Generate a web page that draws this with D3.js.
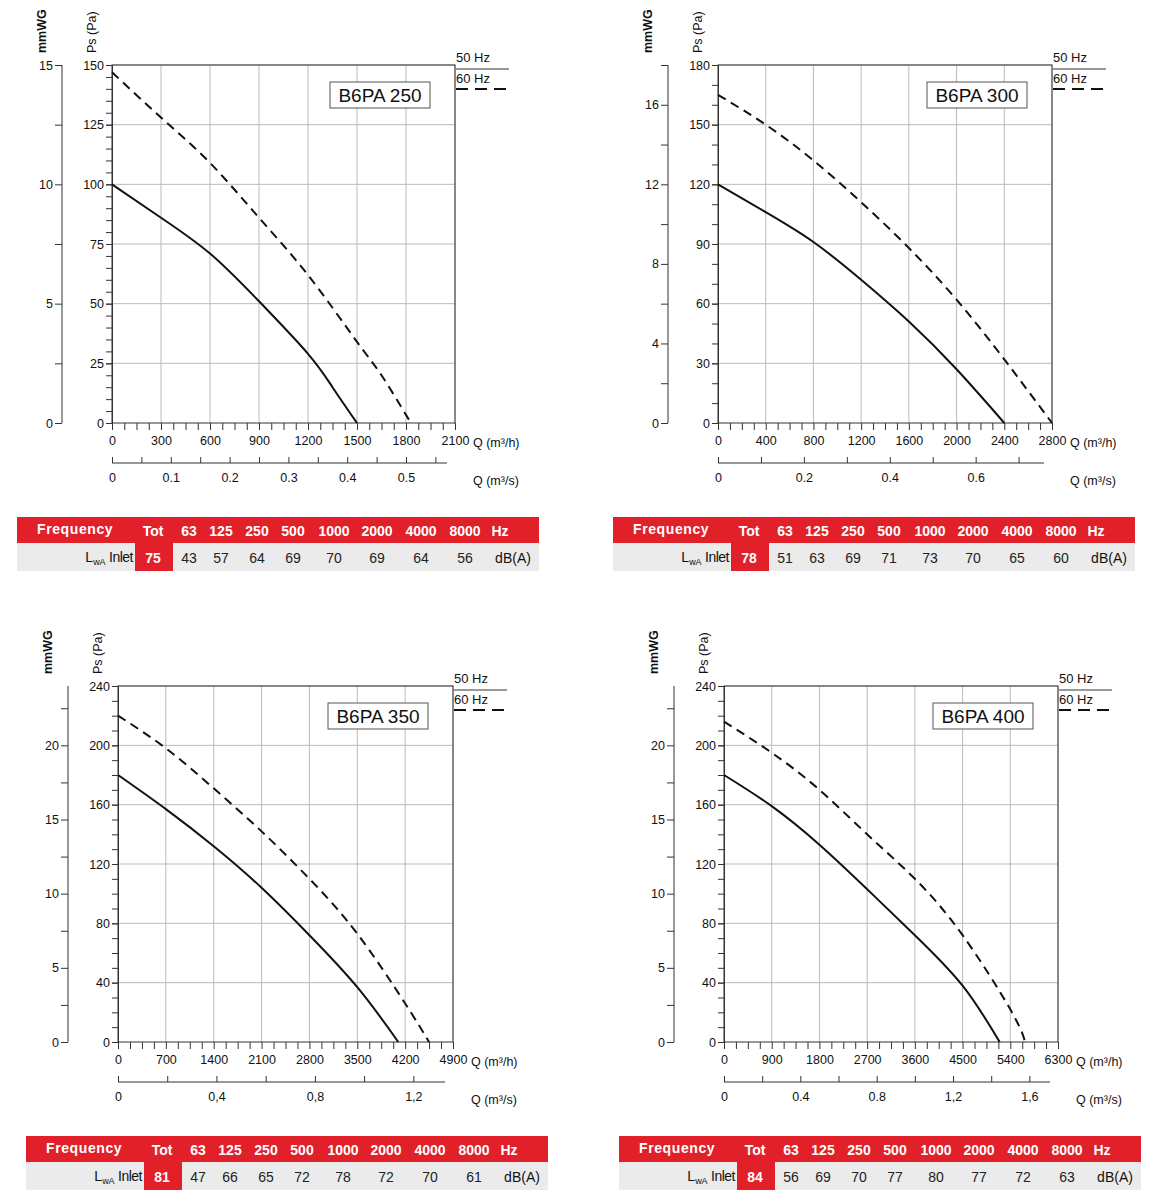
<!DOCTYPE html>
<html><head><meta charset="utf-8">
<script src="https://cdn.jsdelivr.net/npm/d3@7"></script>
<style>
body{margin:0;background:#fff;}
text{font-family:"Liberation Sans",Arial,sans-serif;fill:#111;}
.grid line{stroke:#bbb;stroke-width:1;}
</style></head><body>
<svg id="chart" width="1152" height="1200"></svg>
<script>
// ---- data ----
var models = ["B6PA 250", "B6PA 300", "B6PA 350", "B6PA 400"];

var q50_250 = [0, 300, 600, 900, 1200, 1350, 1500];
var p50_250 = [100, 86, 71, 51, 29, 15, 0];
var q60_250 = [0, 300, 600, 900, 1200, 1500, 1650, 1830];
var p60_250 = [147, 128, 109, 86, 62, 34, 20, 0];

var q50_300 = [0, 400, 800, 1200, 1600, 2000, 2400];
var p50_300 = [120, 106, 91, 72, 51, 27, 0];
var q60_300 = [0, 400, 800, 1200, 1600, 2000, 2400, 2800];
var p60_300 = [165, 150, 132, 111, 88, 62, 32, 0];

var q50_350 = [0, 700, 1400, 2100, 2800, 3500, 4100];
var p50_350 = [180, 157, 132, 104, 72, 37, 0];
var q60_350 = [0, 700, 1400, 2100, 2800, 3500, 4200, 4550];
var p60_350 = [220, 198, 171, 142, 110, 73, 26, 0];

var q50_400 = [0, 900, 1800, 2700, 3600, 4500, 5200];
var p50_400 = [180, 159, 133, 103, 72, 38, 0];
var q60_400 = [0, 900, 1800, 2700, 3600, 4500, 5400, 5680];
var p60_400 = [216, 195, 170, 140, 110, 72, 22, 0];

var freqHeads = ["Tot", "63", "125", "250", "500", "1000", "2000", "4000", "8000", "Hz"];
var lwa_250 = [75, 43, 57, 64, 69, 70, 69, 64, 56];
var lwa_300 = [78, 51, 63, 69, 71, 73, 70, 65, 60];
var lwa_350 = [81, 47, 66, 65, 72, 78, 72, 70, 61];
var lwa_400 = [84, 56, 69, 70, 77, 80, 77, 72, 63];

var panels = [
  {name: models[0], x: 112, y: 65, w: 343, h: 358, qMax: 2100, qStep: 300, pMax: 150, pStep: 25, pMinor: 5,
   mwTicks: [0,5,10,15], mwMinor: 2.5, msTicks: [0,0.1,0.2,0.3,0.4,0.5], msMinor: 0.05, msFmt: function(d){return String(d);},
   s50: [q50_250, p50_250], s60: [q60_250, p60_250], lwa: lwa_250, tx: 17},
  {name: models[1], x: 718, y: 65, w: 334, h: 358, qMax: 2800, qStep: 400, pMax: 180, pStep: 30, pMinor: 10,
   mwTicks: [0,4,8,12,16], mwMinor: 2, msTicks: [0,0.2,0.4,0.6], msMinor: 0.1, msFmt: function(d){return String(d);},
   s50: [q50_300, p50_300], s60: [q60_300, p60_300], lwa: lwa_300, tx: 613},
  {name: models[2], x: 118, y: 686, w: 335, h: 356, qMax: 4900, qStep: 700, pMax: 240, pStep: 40, pMinor: 10,
   mwTicks: [0,5,10,15,20], mwMinor: 2.5, msTicks: [0,0.4,0.8,1.2], msMinor: 0.2, msFmt: function(d){return String(d).replace(".", ",");},
   s50: [q50_350, p50_350], s60: [q60_350, p60_350], lwa: lwa_350, tx: 26},
  {name: models[3], x: 724, y: 686, w: 334, h: 356, qMax: 6300, qStep: 900, pMax: 240, pStep: 40, pMinor: 10,
   mwTicks: [0,5,10,15,20], mwMinor: 2.5, msTicks: [0,0.4,0.8,1.2,1.6], msMinor: 0.2, msFmt: function(d){return d < 1 ? String(d) : String(d).replace(".", ",");},
   s50: [q50_400, p50_400], s60: [q60_400, p60_400], lwa: lwa_400, tx: 619}
];

// column centres in the noise table, relative to its left edge
var colX = [136, 172, 204, 240, 276, 317, 360, 404, 448, 483];
var RED = "#e2202a";

var svg = d3.select("#chart");

panels.forEach(function(p) {
  var g = svg.append("g");
  var bottom = p.y + p.h, right = p.x + p.w;
  var x = d3.scaleLinear().domain([0, p.qMax]).range([p.x, right]);
  var y = d3.scaleLinear().domain([0, p.pMax]).range([bottom, p.y]);
  var ym = d3.scaleLinear().domain([0, p.pMax / 10]).range([bottom, p.y]);
  var xs = d3.scaleLinear().domain([0, p.qMax / 3600]).range([p.x, right]);

  // grid
  var grid = g.append("g").attr("class", "grid");
  grid.selectAll(".v").data(d3.range(p.qStep, p.qMax + 1, p.qStep)).join("line")
    .attr("x1", x).attr("x2", x).attr("y1", p.y).attr("y2", bottom);
  grid.selectAll(".h").data(d3.range(p.pStep, p.pMax + 1, p.pStep)).join("line")
    .attr("x1", p.x).attr("x2", right).attr("y1", y).attr("y2", y);
  g.append("rect").attr("x", p.x).attr("y", p.y).attr("width", p.w).attr("height", p.h)
    .attr("fill", "none").attr("stroke", "#333").attr("stroke-width", 1);

  // Ps axis
  g.append("g").attr("transform", "translate(" + p.x + ",0)")
    .call(d3.axisLeft(y).tickValues(d3.range(0, p.pMax + 1, p.pStep)).tickSize(6).tickPadding(2).tickFormat(d3.format("d")));
  g.append("g").attr("transform", "translate(" + p.x + ",0)")
    .call(d3.axisLeft(y).tickValues(d3.range(0, p.pMax + 0.1, p.pMinor)).tickSize(6).tickFormat(""))
    .select(".domain").remove();

  // mmWG axis
  var mx = p.x - 50;
  var mAx = g.append("g").attr("transform", "translate(" + mx + ",0)")
    .call(d3.axisRight(ym).tickValues(d3.range(0, p.pMax / 10 + 0.01, p.mwMinor)).tickSize(-7).tickFormat(""));
  mAx.select(".domain").attr("d", "M0," + p.y + "V" + bottom);
  g.append("g").attr("transform", "translate(" + mx + ",0)")
    .call(d3.axisLeft(ym).tickValues(p.mwTicks).tickSize(0).tickPadding(9))
    .select(".domain").remove();

  // Q m3/h axis
  g.append("g").attr("transform", "translate(0," + bottom + ")")
    .call(d3.axisBottom(x).tickValues(d3.range(0, p.qMax + 1, p.qStep / 4)).tickSize(7).tickFormat(""))
    .select(".domain").remove();
  g.append("g").attr("transform", "translate(0," + bottom + ")")
    .call(d3.axisBottom(x).tickValues(d3.range(0, p.qMax + 1, p.qStep)).tickSize(0).tickPadding(13).tickFormat(d3.format("d")))
    .select(".domain").remove();
  g.append("text").attr("x", right + 18).attr("y", bottom + 24).attr("font-size", 12.5).text("Q (m³/h)");

  // Q m3/s axis
  var sy = bottom + 40;
  var sAx = g.append("g").attr("transform", "translate(0," + sy + ")")
    .call(d3.axisTop(xs).tickValues(d3.range(0, p.qMax / 3600, p.msMinor)).tickSize(6).tickFormat(""));
  sAx.select(".domain").attr("d", "M" + p.x + ",0H" + (right - 8));
  g.append("g").attr("transform", "translate(0," + sy + ")")
    .call(d3.axisBottom(xs).tickValues(p.msTicks).tickSize(0).tickPadding(10).tickFormat(p.msFmt))
    .select(".domain").remove();
  g.append("text").attr("x", right + 18).attr("y", sy + 22).attr("font-size", 12.5).text("Q (m³/s)");

  g.selectAll(".tick text").attr("font-size", 12.5).attr("fill", "#111");
  g.selectAll(".domain,.tick line").attr("stroke", "#333");

  // axis titles
  g.append("text").attr("transform", "translate(" + (p.x - 16) + "," + (p.y - 12) + ") rotate(-90)")
    .attr("font-size", 12.5).text("Ps (Pa)");
  g.append("text").attr("transform", "translate(" + (p.x - 66) + "," + (p.y - 12) + ") rotate(-90)")
    .attr("font-size", 12.5).attr("font-weight", "bold").text("mmWG");

  // curves
  var line = d3.line().x(function(d){return x(d[0]);}).y(function(d){return y(d[1]);}).curve(d3.curveNatural);
  g.append("path").datum(d3.zip(p.s50[0], p.s50[1])).attr("d", line)
    .attr("fill", "none").attr("stroke", "#111").attr("stroke-width", 2);
  g.append("path").datum(d3.zip(p.s60[0], p.s60[1])).attr("d", line)
    .attr("fill", "none").attr("stroke", "#111").attr("stroke-width", 2).attr("stroke-dasharray", "9,6");

  // title box
  g.append("rect").attr("x", right - 125).attr("y", p.y + 17).attr("width", 100).attr("height", 26)
    .attr("fill", "#fff").attr("stroke", "#555");
  g.append("text").attr("x", right - 75).attr("y", p.y + 37).attr("text-anchor", "middle")
    .attr("font-size", 19).text(p.name);

  // legend
  g.append("text").attr("x", right + 1).attr("y", p.y - 3).attr("font-size", 13).text("50 Hz");
  g.append("line").attr("x1", right + 1).attr("x2", right + 54).attr("y1", p.y + 4).attr("y2", p.y + 4)
    .attr("stroke", "#333");
  g.append("text").attr("x", right + 1).attr("y", p.y + 18).attr("font-size", 13).text("60 Hz");
  g.append("line").attr("x1", right + 1).attr("x2", right + 54).attr("y1", p.y + 24).attr("y2", p.y + 24)
    .attr("stroke", "#111").attr("stroke-width", 2).attr("stroke-dasharray", "12,7");

  // noise table
  var ty = bottom + 94, tw = 522;
  var t = g.append("g").attr("transform", "translate(" + p.tx + "," + ty + ")");
  t.append("rect").attr("width", tw).attr("height", 26).attr("fill", RED);
  t.append("rect").attr("y", 26).attr("width", tw).attr("height", 28).attr("fill", "#ebebeb");
  t.append("rect").attr("x", colX[0] - 18).attr("y", 26).attr("width", 38).attr("height", 28).attr("fill", RED);
  t.append("text").attr("x", 20).attr("y", 17).attr("font-size", 14).attr("font-weight", "bold")
    .style("fill", "#fff").attr("letter-spacing", 0.6).text("Frequency");
  t.selectAll(".hd").data(freqHeads).join("text")
    .attr("x", function(d, i){return colX[i];}).attr("y", 19).attr("text-anchor", "middle")
    .attr("font-size", 14).attr("font-weight", "bold").style("fill", "#fff").text(function(d){return d;});
  var lab = t.append("text").attr("x", 116).attr("y", 45).attr("text-anchor", "end").attr("font-size", 14);
  lab.append("tspan").text("L");
  lab.append("tspan").attr("font-size", 9).attr("dy", 3).text("wA");
  lab.append("tspan").attr("dy", -3).attr("letter-spacing", -0.5).text(" Inlet");
  t.selectAll(".vl").data(p.lwa).join("text")
    .attr("x", function(d, i){return colX[i];}).attr("y", 46).attr("text-anchor", "middle")
    .attr("font-size", 14).attr("font-weight", function(d, i){return i === 0 ? "bold" : null;})
    .style("fill", function(d, i){return i === 0 ? "#fff" : "#222";}).text(function(d){return d;});
  t.append("text").attr("x", colX[9] + 13).attr("y", 46).attr("text-anchor", "middle")
    .attr("font-size", 14).text("dB(A)");
});
</script></body></html>
